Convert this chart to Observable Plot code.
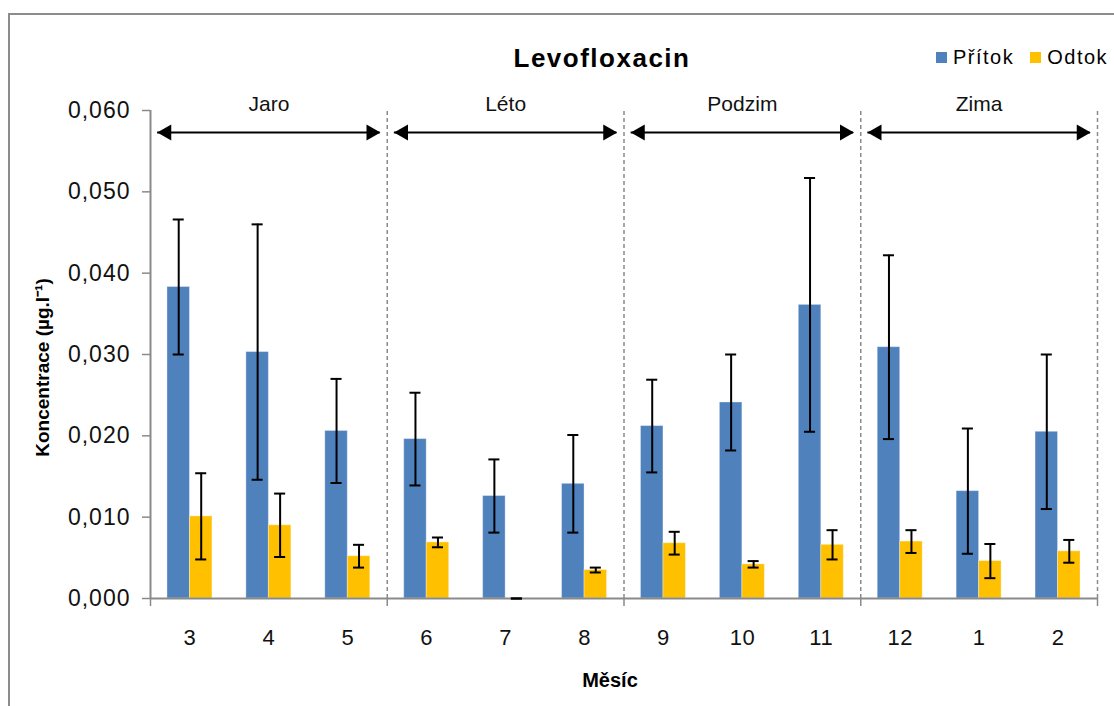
<!DOCTYPE html>
<html>
<head>
<meta charset="utf-8">
<script src="https://cdn.jsdelivr.net/npm/d3@7"></script>
<script src="https://cdn.jsdelivr.net/npm/@observablehq/plot@0.6"></script>
<style>
  html, body { margin: 0; padding: 0; background: #fff; overflow: hidden; width: 1114px; height: 706px; }
  #wrap { position: relative; width: 1114px; height: 706px; font-family: "Liberation Sans", Arial, sans-serif; color: #000; }
  #border { position: absolute; left: 8px; top: 13px; width: 1200px; height: 800px; border: 2px solid #8c8c8c; box-sizing: border-box; }
  #chart { position: absolute; left: 0; top: 0; }
  #title { position: absolute; left: 402px; width: 400px; top: 43px; line-height: 30px; text-align: center; font-size: 26px; font-weight: bold; letter-spacing: 1.5px; }
  #legend { position: absolute; left: 936px; top: 46px; display: flex; align-items: center; font-size: 20px; letter-spacing: 1.5px; white-space: nowrap; }
  #legend .item { display: flex; align-items: center; margin-right: 16px; }
  #legend .sw { width: 11px; height: 11px; margin-right: 6px; }
  #chart g[aria-label="y-axis tick label"] text { letter-spacing: 1px; }
  #chart g[aria-label="x-axis tick label"] text { letter-spacing: 0.5px; }
  #chart g[aria-label="season label"] text { letter-spacing: 1.3px; }
  #chart g[aria-label="axis title"] text { letter-spacing: 1px; }
</style>
</head>
<body>
<div id="wrap">
  <div id="border"></div>
  <div id="chart"></div>
  <div id="title"></div>
  <div id="legend"></div>
</div>
<script>
// Monthly Levofloxacin concentrations, inflow vs outflow, mean ± error
const chartTitle = "Levofloxacin";
const months = ["3", "4", "5", "6", "7", "8", "9", "10", "11", "12", "1", "2"];
const seasons = ["Jaro", "Léto", "Podzim", "Zima"];
const seriesNames = ["Přítok", "Odtok"];
const seriesColors = ["#4F81BD", "#FFC000"];
const pritok    = [0.0383, 0.0303, 0.0206, 0.0196, 0.0126, 0.0141, 0.0212, 0.0241, 0.0361, 0.0309, 0.0132, 0.0205];
const pritokErr = [0.0083, 0.0157, 0.0064, 0.0057, 0.0045, 0.0060, 0.0057, 0.0059, 0.0156, 0.0113, 0.0077, 0.0095];
const odtok     = [0.0101, 0.0090, 0.0052, 0.0069, 0.0000, 0.0035, 0.0068, 0.0042, 0.0066, 0.0070, 0.0046, 0.0058];
const odtokErr  = [0.0053, 0.0039, 0.0014, 0.0006, 0.0000, 0.0003, 0.0014, 0.0004, 0.0018, 0.0014, 0.0021, 0.0014];
const yTicks = [0, 0.01, 0.02, 0.03, 0.04, 0.05, 0.06];
const xLabel = "Měsíc";
const yLabel = "Koncentrace (µg.l⁻¹)";

const perSeason = months.length / seasons.length;
const barW = 0.285;   // bar width in month slots
const capW = 0.07;    // half width of error caps
const axisGray = "#8a8a8a";

const rows = months.flatMap((m, i) => [
  {i, month: m, series: seriesNames[0], value: pritok[i], err: pritokErr[i], side: -1},
  {i, month: m, series: seriesNames[1], value: odtok[i], err: odtokErr[i], side: 1}
]);
const barLeft = d => d.side < 0 ? d.i + 0.5 - barW : d.i + 0.5;
const barMid = d => barLeft(d) + barW / 2;

const boundaries = d3.range(0, seasons.length + 1).map(k => k * perSeason);
const seasonRows = seasons.map((name, k) => ({name, start: k * perSeason, end: (k + 1) * perSeason}));
const yMax = yTicks[yTicks.length - 1];

const plot = Plot.plot({
  width: 1114,
  height: 706,
  marginLeft: 150,
  marginRight: 17,
  marginTop: 110,
  marginBottom: 108,
  x: {domain: [0, months.length]},
  y: {domain: [0, yMax]},
  color: {domain: seriesNames, range: seriesColors},
  style: {fontFamily: "'Liberation Sans', Arial, sans-serif", background: "transparent", color: "#000", overflow: "visible"},
  marks: [
    // bars
    Plot.rectY(rows, {x1: barLeft, x2: d => barLeft(d) + barW, y: "value", fill: "series", stroke: "#ffffff", strokeOpacity: 0.35, strokeWidth: 1}),
    // season separators
    Plot.ruleX(boundaries.slice(1), {y1: 0, y2: yMax, stroke: axisGray, strokeWidth: 1.5, strokeDasharray: "4,3"}),
    // axis lines
    Plot.ruleX([0], {y1: 0, y2: yMax, stroke: axisGray, strokeWidth: 2}),
    Plot.ruleY([0], {stroke: axisGray, strokeWidth: 2}),
    Plot.axisY(yTicks, {tickSize: 8, tickPadding: 12, strokeWidth: 1.5, stroke: axisGray, fill: "#111", fontSize: 23,
      tickFormat: d => d3.format(".3f")(d).replace(".", ","), label: null}),
    Plot.axisX(boundaries, {tickSize: 8, tickFormat: () => "", stroke: axisGray, strokeWidth: 1.5, label: null}),
    Plot.axisX(months.map((m, i) => i + 0.5), {tickSize: 0, tickPadding: 31, fill: "#111", fontSize: 22,
      tickFormat: d => months[Math.floor(d)], label: null}),
    // error bars
    Plot.ruleX(rows, {x: barMid, y1: d => d.value - d.err, y2: d => d.value + d.err, stroke: "#000", strokeWidth: 2}),
    Plot.ruleY(rows, {y: d => d.value + d.err, x1: d => barMid(d) - capW, x2: d => barMid(d) + capW, stroke: "#000", strokeWidth: 2}),
    Plot.ruleY(rows, {y: d => d.value - d.err, x1: d => barMid(d) - capW, x2: d => barMid(d) + capW, stroke: "#000", strokeWidth: 2}),
    // season spans: double arrows and names
    Plot.ruleY(seasonRows, {y: () => yMax, dy: 22, x1: d => d.start + 0.09, x2: d => d.end - 0.09, stroke: "#000", strokeWidth: 2}),
    Plot.dot(seasonRows, {x: d => d.end - 0.09, y: () => yMax, dy: 22, dx: -9, symbol: "triangle", r: 6, rotate: 90, fill: "#000", stroke: null}),
    Plot.dot(seasonRows, {x: d => d.start + 0.09, y: () => yMax, dy: 22, dx: 9, symbol: "triangle", r: 6, rotate: -90, fill: "#000", stroke: null}),
    Plot.text(seasonRows, {x: d => (d.start + d.end) / 2, frameAnchor: "top", lineAnchor: "middle", dy: -6, text: "name",
      fontSize: 21, fill: "#111", ariaLabel: "season label"}),
    // axis titles
    Plot.text([xLabel], {frameAnchor: "bottom", lineAnchor: "middle", textAnchor: "middle", dx: -14, dy: 82, text: d => d,
      fontSize: 20, fontWeight: "bold", ariaLabel: "axis title"}),
    Plot.text([yLabel], {frameAnchor: "left", lineAnchor: "middle", textAnchor: "middle", dx: -108, dy: 13, rotate: -90, text: d => d,
      fontSize: 19, fontWeight: "bold", ariaLabel: "axis title"})
  ]
});
document.getElementById("chart").appendChild(plot);

document.getElementById("title").textContent = chartTitle;
const legend = document.getElementById("legend");
seriesNames.forEach((name, k) => {
  const item = document.createElement("div");
  item.className = "item";
  const sw = document.createElement("div");
  sw.className = "sw";
  sw.style.background = seriesColors[k];
  const label = document.createElement("span");
  label.textContent = name;
  item.appendChild(sw);
  item.appendChild(label);
  legend.appendChild(item);
});
</script>
</body>
</html>
